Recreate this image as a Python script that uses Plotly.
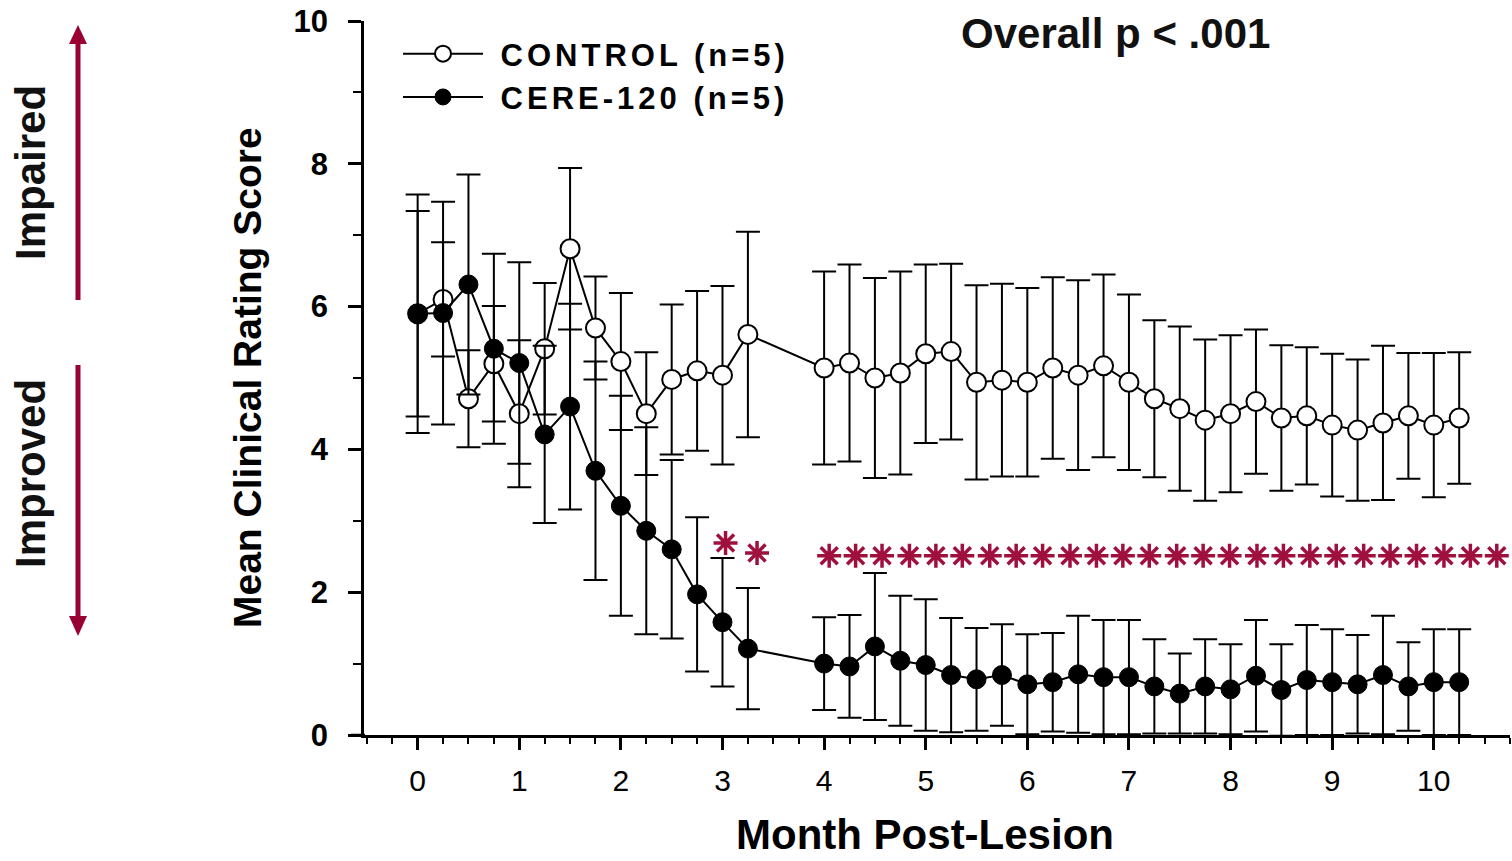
import plotly.graph_objects as go

# ---------------- data ----------------
months = [0, 0.25, 0.5, 0.75, 1, 1.25, 1.5, 1.75, 2, 2.25, 2.5, 2.75, 3, 3.25,
          4, 4.25, 4.5, 4.75, 5, 5.25, 5.5, 5.75, 6, 6.25, 6.5, 6.75, 7, 7.25,
          7.5, 7.75, 8, 8.25, 8.5, 8.75, 9, 9.25, 9.5, 9.75, 10, 10.25]

control_mean = [5.9, 6.1, 4.71, 5.2, 4.5, 5.41, 6.81, 5.7, 5.23, 4.5, 4.98, 5.1, 5.04, 5.61,
                5.14, 5.21, 5.0, 5.07, 5.34, 5.37, 4.94, 4.97, 4.94, 5.14, 5.04, 5.17, 4.94,
                4.71, 4.57, 4.41, 4.5, 4.67, 4.44, 4.47, 4.34, 4.27, 4.37, 4.47, 4.34, 4.44]
control_sem = [1.44, 0.8, 0.68, 0.81, 1.03, 0.92, 1.13, 0.72, 0.96, 0.86, 1.05, 1.12, 1.25, 1.44,
               1.35, 1.38, 1.40, 1.42, 1.25, 1.23, 1.36, 1.35, 1.32, 1.27, 1.33, 1.28, 1.23,
               1.10, 1.15, 1.13, 1.10, 1.01, 1.02, 0.96, 1.0, 0.99, 1.08, 0.88, 1.01, 0.92]

cere_mean = [5.9, 5.91, 6.31, 5.41, 5.21, 4.21, 4.6, 3.7, 3.21, 2.86, 2.6, 1.97, 1.58, 1.21,
             1.0, 0.96, 1.24, 1.04, 0.98, 0.84, 0.78, 0.84, 0.71, 0.74, 0.85, 0.81, 0.81,
             0.68, 0.58, 0.68, 0.64, 0.83, 0.63, 0.77, 0.74, 0.71, 0.84, 0.68, 0.74, 0.74]
cere_sem = [1.67, 1.56, 1.54, 1.33, 1.41, 1.24, 1.44, 1.53, 1.54, 1.45, 1.25, 1.08, 0.9, 0.85,
            0.65, 0.72, 1.03, 0.91, 0.92, 0.8, 0.72, 0.71, 0.7, 0.69, 0.82, 0.8, 0.8,
            0.66, 0.56, 0.66, 0.63, 0.78, 0.64, 0.77, 0.74, 0.69, 0.83, 0.62, 0.74, 0.74]

# significance marks (positions)
sig_x = [3.03, 3.34, 4.05, 4.31, 4.57, 4.84, 5.10, 5.36, 5.63, 5.89, 6.15, 6.42, 6.68, 6.94,
         7.20, 7.47, 7.73, 7.99, 8.26, 8.52, 8.78, 9.04, 9.31, 9.57, 9.83, 10.10, 10.36, 10.62]
sig_y = [2.69, 2.55] + [2.51] * 26

x_ticks = [0, 1, 2, 3, 4, 5, 6, 7, 8, 9, 10]
y_ticks = [0, 2, 4, 6, 8, 10]

# ---------------- layout helpers ----------------
W, H = 1512, 861
ML, MR, MT, MB = 364, 2, 21, 126
PW, PH = W - ML - MR, H - MT - MB


def px(x):
    return (x - ML) / PW


def py(y):
    return (H - MB - y) / PH


FONT = "Liberation Sans, Arial, Helvetica, sans-serif"
RED = "#990033"
STAR = "#A0103F"

fig = go.Figure()

fig.add_trace(go.Scatter(
    x=months, y=control_mean, mode="lines+markers",
    name='<span style="letter-spacing:4px">\u00a0CONTROL (n=5)</span>',
    line=dict(color="black", width=2),
    marker=dict(symbol="circle", size=19, color="white", line=dict(color="black", width=2)),
    error_y=dict(type="data", array=control_sem, visible=True, color="black", thickness=2, width=12),
))
fig.add_trace(go.Scatter(
    x=months, y=cere_mean, mode="lines+markers",
    name='<span style="letter-spacing:4px">\u00a0CERE-120 (n=5)</span>',
    line=dict(color="black", width=2),
    marker=dict(symbol="circle", size=19, color="black", line=dict(color="black", width=1)),
    error_y=dict(type="data", array=cere_sem, visible=True, color="black", thickness=2, width=12),
))
fig.add_trace(go.Scatter(
    x=sig_x, y=sig_y, mode="markers", showlegend=False, hoverinfo="skip",
    marker=dict(symbol="asterisk-open", size=20, color=STAR, line=dict(color=STAR, width=3.5)),
    cliponaxis=False,
))

common = dict(xref="paper", yref="paper", showarrow=False, xanchor="center", yanchor="middle")
annotations = [
    dict(text="<b>Overall p &lt; .001</b>", x=px(1115), y=py(33),
         font=dict(family=FONT, size=42, color="#111"), **common),
    dict(text="<b>Month Post-Lesion</b>", x=px(925), y=py(834),
         font=dict(family=FONT, size=42, color="black"), **common),
    dict(text="<b>Mean Clinical Rating Score</b>", x=px(247), y=py(378), textangle=-90,
         font=dict(family=FONT, size=39, color="black"), **common),
    dict(text="<b>Impaired</b>", x=px(30), y=py(173), textangle=-90,
         font=dict(family=FONT, size=42, color="#111"), **common),
    dict(text="<b>Improved</b>", x=px(30), y=py(474), textangle=-90,
         font=dict(family=FONT, size=42, color="#111"), **common),
]

hw = 9 / PW
shapes = [
    dict(type="line", xref="paper", yref="paper", x0=px(78), x1=px(78), y0=py(300), y1=py(42),
         line=dict(color=RED, width=5)),
    dict(type="path", xref="paper", yref="paper", fillcolor=RED, line=dict(color=RED, width=0),
         path=f"M {px(78)-hw},{py(44)} L {px(78)+hw},{py(44)} L {px(78)},{py(25)} Z"),
    dict(type="line", xref="paper", yref="paper", x0=px(78), x1=px(78), y0=py(365), y1=py(618),
         line=dict(color=RED, width=5)),
    dict(type="path", xref="paper", yref="paper", fillcolor=RED, line=dict(color=RED, width=0),
         path=f"M {px(78)-hw},{py(616)} L {px(78)+hw},{py(616)} L {px(78)},{py(636)} Z"),
    # small overhang of the x axis line left of the y axis
    dict(type="line", xref="paper", yref="y", x0=px(351), x1=px(365), y0=0, y1=0,
         line=dict(color="black", width=2.5)),
]

fig.update_layout(
    width=W, height=H,
    margin=dict(l=ML, r=MR, t=MT, b=MB),
    plot_bgcolor="white", paper_bgcolor="white",
    font=dict(family=FONT, color="black"),
    showlegend=True,
    legend=dict(x=px(398), y=py(27), xanchor="left", yanchor="top",
                bgcolor="rgba(0,0,0,0)", font=dict(family=FONT, size=31, color="black", weight="bold"),
                itemwidth=80, tracegroupgap=0),
    annotations=annotations,
    shapes=shapes,
    xaxis=dict(range=[-0.528, 10.75], tickvals=x_ticks, ticks="outside", ticklen=12, tickwidth=2.5,
               tickcolor="black", showline=True, linewidth=2.5, linecolor="black",
               showgrid=False, zeroline=False,
               tickfont=dict(family=FONT, size=30, color="black"), ticklabelstandoff=5,
               minor=dict(dtick=0.25, tick0=0, ticks="outside", ticklen=6, tickwidth=1.5,
                          tickcolor="black", showgrid=False)),
    yaxis=dict(range=[0, 10], tickvals=y_ticks, ticks="outside", ticklen=13, tickwidth=2.5,
               tickcolor="black", showline=True, linewidth=2.5, linecolor="black",
               showgrid=False, zeroline=False,
               tickfont=dict(family=FONT, size=31, color="black", weight="bold"), ticklabelstandoff=14,
               minor=dict(dtick=1, tick0=0, ticks="outside", ticklen=8, tickwidth=1.5,
                          tickcolor="black", showgrid=False)),
)

fig.write_html("out.html", config={"displayModeBar": False},
               post_script="document.body.style.margin='0';")
